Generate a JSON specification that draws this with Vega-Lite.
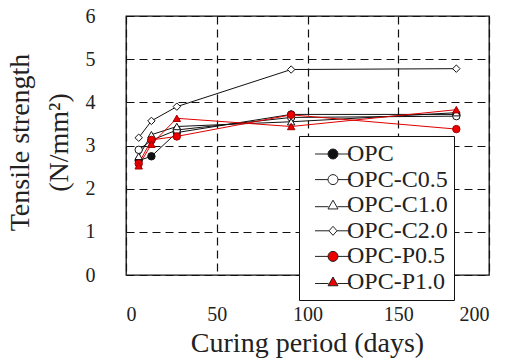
{
  "$schema": "https://vega.github.io/schema/vega-lite/v6.json",
  "width": 363,
  "height": 259,
  "autosize": "none",
  "padding": {"left": 126, "top": 16, "right": 23, "bottom": 85},
  "config": {
    "view": {"stroke": "#111", "strokeWidth": 1.3},
    "font": "Liberation Serif",
    "axis": {
      "grid": true, "gridColor": "#111", "gridDash": [8, 5], "gridWidth": 1.2,
      "domain": false, "ticks": false,
      "labelFont": "Liberation Serif", "labelFontSize": 20, "labelColor": "#222",
      "titleFont": "Liberation Serif", "titleFontSize": 28, "titleFontWeight": "normal", "titleColor": "#222"
    }
  },
  "data": {"values": [
    {"series": "OPC", "day": 7, "value": 2.65},
    {"series": "OPC", "day": 14, "value": 2.75},
    {"series": "OPC", "day": 28, "value": 3.3},
    {"series": "OPC", "day": 91, "value": 3.72},
    {"series": "OPC", "day": 182, "value": 3.72},
    {"series": "OPC-C0.5", "day": 7, "value": 2.9},
    {"series": "OPC-C0.5", "day": 14, "value": 3.12},
    {"series": "OPC-C0.5", "day": 28, "value": 3.36},
    {"series": "OPC-C0.5", "day": 91, "value": 3.65},
    {"series": "OPC-C0.5", "day": 182, "value": 3.68},
    {"series": "OPC-C1.0", "day": 7, "value": 2.75},
    {"series": "OPC-C1.0", "day": 14, "value": 3.25},
    {"series": "OPC-C1.0", "day": 28, "value": 3.44},
    {"series": "OPC-C1.0", "day": 91, "value": 3.55},
    {"series": "OPC-C1.0", "day": 182, "value": 3.76},
    {"series": "OPC-C2.0", "day": 7, "value": 3.18},
    {"series": "OPC-C2.0", "day": 14, "value": 3.57},
    {"series": "OPC-C2.0", "day": 28, "value": 3.9},
    {"series": "OPC-C2.0", "day": 91, "value": 4.76},
    {"series": "OPC-C2.0", "day": 182, "value": 4.78},
    {"series": "OPC-P0.5", "day": 7, "value": 2.58},
    {"series": "OPC-P0.5", "day": 14, "value": 3.13},
    {"series": "OPC-P0.5", "day": 28, "value": 3.21},
    {"series": "OPC-P0.5", "day": 91, "value": 3.71},
    {"series": "OPC-P0.5", "day": 182, "value": 3.38},
    {"series": "OPC-P1.0", "day": 7, "value": 2.53},
    {"series": "OPC-P1.0", "day": 14, "value": 3.03},
    {"series": "OPC-P1.0", "day": 28, "value": 3.63},
    {"series": "OPC-P1.0", "day": 91, "value": 3.44},
    {"series": "OPC-P1.0", "day": 182, "value": 3.83}
  ]},
  "encoding": {
    "x": {
      "field": "day", "type": "quantitative",
      "scale": {"domain": [0, 200], "nice": false},
      "axis": {
        "values": [0, 50, 100, 150, 200], "labelPadding": 29,
        "title": "Curing period (days)", "titleX": 181, "titleY": 68, "titleBaseline": "middle", "titleAlign": "center"
      }
    },
    "y": {
      "field": "value", "type": "quantitative",
      "scale": {"domain": [0, 6], "nice": false},
      "axis": {
        "values": [0, 1, 2, 3, 4, 5, 6], "labelPadding": 31,
        "title": ["Tensile strength", "(N/mm²)"], "titleX": -106, "titleY": 126,
        "titleAlign": "center", "titleBaseline": "middle", "titleLineHeight": 39, "titleAngle": -90
      }
    }
  },
  "layer": [
    {
      "mark": {"type": "line", "strokeWidth": 1},
      "encoding": {
        "detail": {"field": "series"},
        "stroke": {
          "field": "series", "type": "nominal", "legend": null,
          "scale": {
            "domain": ["OPC", "OPC-C0.5", "OPC-C1.0", "OPC-C2.0", "OPC-P0.5", "OPC-P1.0"],
            "range": ["#111", "#111", "#111", "#111", "#e00000", "#e00000"]
          }
        }
      }
    },
    {
      "mark": {"type": "point", "filled": true, "size": 55, "strokeWidth": 1, "opacity": 1},
      "encoding": {
        "shape": {
          "field": "series", "type": "nominal", "legend": null,
          "scale": {
            "domain": ["OPC", "OPC-C0.5", "OPC-C1.0", "OPC-C2.0", "OPC-P0.5", "OPC-P1.0"],
            "range": ["circle", "circle", "triangle-up", "diamond", "circle", "triangle-up"]
          }
        },
        "fill": {
          "field": "series", "type": "nominal", "legend": null,
          "scale": {
            "domain": ["OPC", "OPC-C0.5", "OPC-C1.0", "OPC-C2.0", "OPC-P0.5", "OPC-P1.0"],
            "range": ["#111", "white", "white", "white", "#ee0000", "#ee0000"]
          }
        },
        "stroke": {
          "field": "series", "type": "nominal", "legend": null,
          "scale": {
            "domain": ["OPC", "OPC-C0.5", "OPC-C1.0", "OPC-C2.0", "OPC-P0.5", "OPC-P1.0"],
            "range": ["#111", "#111", "#111", "#111", "#a00000", "#a00000"]
          }
        }
      }
    },
    {
      "mark": {"type": "point", "filled": true, "size": 64, "strokeWidth": 1, "stroke": "#222", "opacity": 0},
      "encoding": {
        "color": {
          "field": "series", "type": "nominal",
          "scale": {
            "domain": ["OPC", "OPC-C0.5", "OPC-C1.0", "OPC-C2.0", "OPC-P0.5", "OPC-P1.0"],
            "range": ["#111", "white", "white", "white", "#ee0000", "#ee0000"]
          },
          "legend": {
            "orient": "none", "legendX": 173, "legendY": 120, "title": null,
            "strokeColor": "#111", "fillColor": "white", "padding": 6,
            "labelFont": "Liberation Serif", "labelFontSize": 24, "labelColor": "#222",
            "symbolOffset": 16, "labelOffset": 2, "rowPadding": 1.6, "symbolStrokeWidth": 1
          }
        },
        "shape": {
          "field": "series", "type": "nominal",
          "scale": {
            "domain": ["OPC", "OPC-C0.5", "OPC-C1.0", "OPC-C2.0", "OPC-P0.5", "OPC-P1.0"],
            "range": [
              "M-3.6,0H-1M1,0H3.6M-1,0A1,1 0 1,1 1,0A1,1 0 1,1 -1,0Z",
              "M-3.6,0H-1M1,0H3.6M-1,0A1,1 0 1,1 1,0A1,1 0 1,1 -1,0Z",
              "M-3.6,0.3H-0.9M0.9,0.3H3.6M0,-1L1,0.75L-1,0.75Z",
              "M-3.6,0H-0.8M0.8,0H3.6M0,-0.9L0.8,0L0,0.9L-0.8,0Z",
              "M-3.6,0H-1M1,0H3.6M-1,0A1,1 0 1,1 1,0A1,1 0 1,1 -1,0Z",
              "M-3.6,0.3H-0.9M0.9,0.3H3.6M0,-1L1,0.75L-1,0.75Z"
            ]
          },
          "legend": {
            "orient": "none", "legendX": 173, "legendY": 120, "title": null,
            "strokeColor": "#111", "fillColor": "white", "padding": 6,
            "labelFont": "Liberation Serif", "labelFontSize": 24, "labelColor": "#222",
            "symbolOffset": 16, "labelOffset": 2, "rowPadding": 1.6, "symbolStrokeWidth": 1
          }
        }
      }
    }
  ],
  "resolve": {"scale": {"shape": "independent", "fill": "independent", "stroke": "independent", "color": "independent"}}
}
